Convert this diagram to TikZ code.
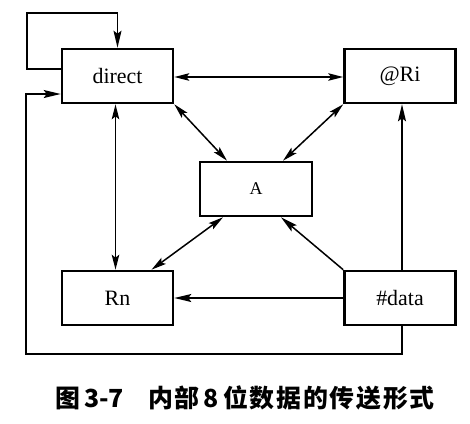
\documentclass[tikz,border=0pt]{standalone}
\usepackage{fontspec}
\setmainfont{Liberation Serif}
\newfontfamily\cjk{Noto Sans CJK SC}[LetterSpace=7]
\newfontfamily\cjkplain{Noto Sans CJK SC}
\usetikzlibrary{arrows.meta}
\tikzset{
  box/.style={draw, line width=2.6bp, minimum width=111bp, minimum height=54bp, inner sep=0pt, font=\fontsize{22}{24}\selectfont},
  conn/.style={line width=1.5bp},
  arr/.style={conn, -{Stealth[length=17bp,width=8bp,inset=3bp]}},
  arrtwo/.style={conn, {Stealth[length=15bp,width=7.5bp,inset=3bp]}-{Stealth[length=15bp,width=7.5bp,inset=3bp]}},
  captext/.style={inner sep=0pt, anchor=west, font=\cjk\bfseries\fontsize{25}{28}\selectfont}
}
\begin{document}
\begin{tikzpicture}[x=1bp, y=-1bp]
\useasboundingbox (0,0) rectangle (470,423);
\fill[white] (0,0) rectangle (470,423);
\node[box] (direct) at (117.5,76) {direct};
\node[box] (Ri) at (400,76) {@Ri};
\node[box, minimum width=112bp, font=\fontsize{18}{20}\selectfont] (A) at (256,189) {A};
\node[box] (Rn) at (117.5,298) {Rn};
\node[box] (data) at (400,298) {\#data};
\coordinate (loopc) at (27,13);
\coordinate (fb) at (26,354);
% self loop on direct
\draw[arr] ([yshift=7bp]direct.west) -| (loopc) -| (direct.north);
% feedback from #data to direct
\draw[arr] ([xshift=2bp]data.south) |- (fb) |- ([yshift=-18bp]direct.west);
% direct <-> Rn
\draw[arrtwo] ([xshift=-2bp]direct.south) -- ([xshift=-2bp]Rn.north);
% direct <-> @Ri
\draw[arrtwo] ([yshift=-1bp]direct.east) -- ([yshift=-1bp]Ri.west);
% #data -> @Ri
\draw[arr] ([xshift=2bp]data.north) -- ([xshift=2bp]Ri.south);
% #data -> Rn
\draw[arr] (data.west) -- (Rn.east);
% #data -> A
\draw[arr] (data.north west) -- ([xshift=25bp]A.south);
% Rn <-> A
\draw[arrtwo] ([xshift=34bp]Rn.north) -- ([xshift=-33bp]A.south);
% direct <-> A
\draw[arrtwo] (direct.south east) -- ([xshift=-29bp]A.north);
% @Ri <-> A
\draw[arrtwo] (Ri.south west) -- ([xshift=27bp]A.north);
% caption
\node[captext, font=\cjkplain\bfseries\fontsize{25}{28}\selectfont] (cap1) at (55,398) {图\,3-7};
\node[captext] (cap2) at (148,398) {内部\,8\,位数据的传送形式};
\end{tikzpicture}
\end{document}
